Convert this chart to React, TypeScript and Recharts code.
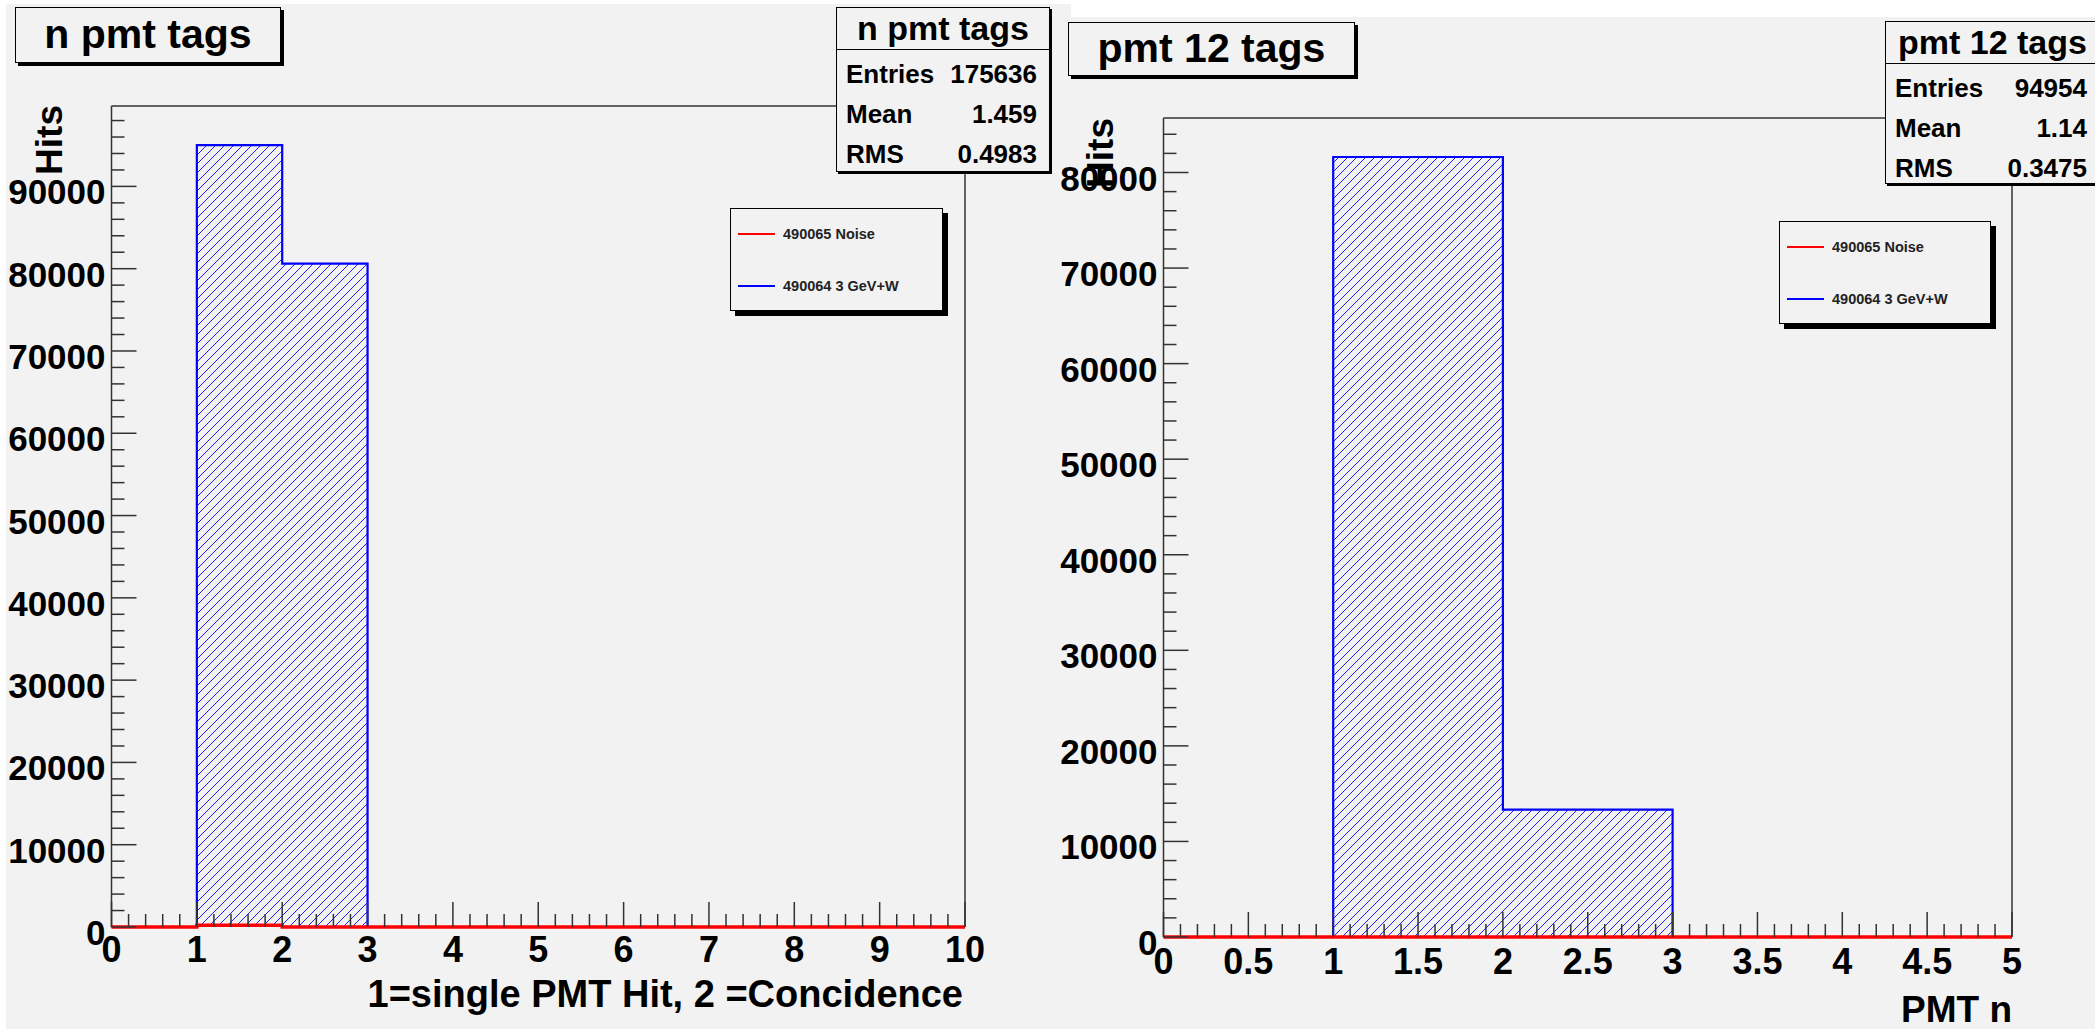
import React from 'react';
import { ComposedChart, Area, Line, XAxis, YAxis, ReferenceLine } from 'recharts';

const FONT = "'Liberation Sans', Arial, Helvetica, sans-serif";
const PAD_BG = '#f2f2f2';
const AXIS_COLOR = '#333333';

// ---- "n pmt tags" histogram (bins of width 1 on [0, 10]) ----
const nTagBinEdges = [0, 1, 2, 3, 4, 5, 6, 7, 8, 9, 10];
const nTagSignal = [0, 95019, 80617, 0, 0, 0, 0, 0, 0, 0, 0];
const nTagNoise = [0, 200, 0, 0, 0, 0, 0, 0, 0, 0, 0];
const nTagXMajor = [0, 1, 2, 3, 4, 5, 6, 7, 8, 9, 10];
const nTagYMajor = [0, 10000, 20000, 30000, 40000, 50000, 60000, 70000, 80000, 90000];
const nTagStats: [string, string][] = [
  ['Entries', '175636'],
  ['Mean', '1.459'],
  ['RMS', '0.4983'],
];

// ---- "pmt 12 tags" histogram (bins of width 1 on [0, 5]) ----
const pmtBinEdges = [0, 1, 2, 3, 4, 5];
const pmtSignal = [0, 81622, 13332, 0, 0, 0];
const pmtNoise = [0, 0, 0, 0, 0, 0];
const pmtXMajor = [0, 0.5, 1, 1.5, 2, 2.5, 3, 3.5, 4, 4.5, 5];
const pmtYMajor = [0, 10000, 20000, 30000, 40000, 50000, 60000, 70000, 80000];
const pmtStats: [string, string][] = [
  ['Entries', '94954'],
  ['Mean', '1.14'],
  ['RMS', '0.3475'],
];

const legendEntries = [
  { label: '490065 Noise', color: '#ff0000' },
  { label: '490064 3 GeV+W', color: '#0000ff' },
];

const r3 = (v: number) => Math.round(v * 1000) / 1000;

// Minor ticks: subdivide each major interval, and continue up to the axis maximum.
function withMinors(step: number, max: number) {
  const out: number[] = [];
  for (let i = 0; r3(i * step) <= max; i++) out.push(r3(i * step));
  return out;
}

function makeXTick(majors: number[], labelBaseline: number) {
  return (props: any) => {
    const { x, y, payload } = props;
    const v = r3(payload.value);
    const isMajor = majors.includes(v);
    return (
      <g>
        <line x1={x} x2={x} y1={y} y2={y - (isMajor ? 25 : 13)} stroke={AXIS_COLOR} strokeWidth={1.5} />
        {isMajor && (
          <text x={x} y={y + labelBaseline} textAnchor="middle" fontFamily={FONT} fontWeight="bold" fontSize={36} fill="#000">
            {String(v)}
          </text>
        )}
      </g>
    );
  };
}

function makeYTick(majors: number[]) {
  return (props: any) => {
    const { x, y, payload } = props;
    const v = r3(payload.value);
    const isMajor = majors.includes(v);
    return (
      <g>
        <line x1={x} x2={x + (isMajor ? 25 : 13)} y1={y} y2={y} stroke={AXIS_COLOR} strokeWidth={1.5} />
        {isMajor && (
          <text x={x - 6} y={y + 18} textAnchor="end" fontFamily={FONT} fontWeight="bold" fontSize={35} fill="#000">
            {String(v)}
          </text>
        )}
      </g>
    );
  };
}

type Box = { left: number; top: number; width: number; height: number };

function TitleBox({ box, text }: { box: Box; text: string }) {
  return (
    <div
      style={{
        position: 'absolute',
        left: box.left,
        top: box.top,
        width: box.width,
        height: box.height,
        boxSizing: 'border-box',
        border: '1.5px solid #000',
        boxShadow: '3px 3px 0 #000',
        background: PAD_BG,
        fontFamily: FONT,
        fontWeight: 'bold',
        fontSize: 41,
        lineHeight: `${box.height - 3}px`,
        textAlign: 'center',
        color: '#000',
        whiteSpace: 'nowrap',
      }}
    >
      {text}
    </div>
  );
}

function StatsBox({ box, title, rows }: { box: Box; title: string; rows: [string, string][] }) {
  const rowCenters = [66, 106, 146];
  return (
    <div
      style={{
        position: 'absolute',
        left: box.left,
        top: box.top,
        width: box.width,
        height: box.height,
        boxSizing: 'border-box',
        border: '1.5px solid #000',
        boxShadow: '2px 2px 0 #000',
        background: PAD_BG,
        fontFamily: FONT,
        fontWeight: 'bold',
        color: '#000',
        whiteSpace: 'nowrap',
      }}
    >
      <div style={{ position: 'absolute', left: 0, right: 0, top: 0, height: 41, lineHeight: '41px', textAlign: 'center', fontSize: 34, borderBottom: '1.5px solid #000' }}>
        {title}
      </div>
      {rows.map(([k, v], i) => (
        <div key={k} style={{ position: 'absolute', left: 9, right: 12, top: rowCenters[i] - 16, height: 32, lineHeight: '32px', fontSize: 26 }}>
          <span style={{ position: 'absolute', left: 0 }}>{k}</span>
          <span style={{ position: 'absolute', right: 0 }}>{v}</span>
        </div>
      ))}
    </div>
  );
}

function LegendBox({ box }: { box: Box }) {
  const rowY = [25, 77];
  return (
    <div
      style={{
        position: 'absolute',
        left: box.left,
        top: box.top,
        width: box.width,
        height: box.height,
        boxSizing: 'border-box',
        border: '1px solid #000',
        boxShadow: '5px 5px 0 #000',
        background: PAD_BG,
        fontFamily: FONT,
        fontWeight: 'bold',
        fontSize: 14.5,
        color: '#222',
        whiteSpace: 'nowrap',
      }}
    >
      {legendEntries.map((e, i) => (
        <div key={e.label}>
          <div style={{ position: 'absolute', left: 7, width: 37, top: rowY[i] - 1.5, height: 2.5, background: e.color }} />
          <div style={{ position: 'absolute', left: 52, top: rowY[i] - 10, height: 20, lineHeight: '20px' }}>{e.label}</div>
        </div>
      ))}
    </div>
  );
}

type PadProps = {
  id: string;
  left: number;
  top: number;
  width: number;
  height: number;
  frame: { left: number; top: number; right: number; bottom: number };
  edges: number[];
  signal: number[];
  noise: number[];
  xMajor: number[];
  xMinorStep: number;
  xLabelBaseline: number;
  yMajor: number[];
  yMinorStep: number;
  title: string;
  titleBox: Box;
  stats: [string, string][];
  statsBox: Box;
  legendBox: Box;
  yTitlePos: [number, number];
  xTitle: string;
  xTitlePos: [number, number];
  xTitleSize: number;
};

function Pad(p: PadProps) {
  const data = p.edges.map((x, i) => ({ x, signal: p.signal[i], noise: p.noise[i] }));
  const xMax = p.edges[p.edges.length - 1];
  const yMax = Math.max(...p.signal) * 1.05;
  const xTicks = withMinors(p.xMinorStep, xMax);
  const yTicks = withMinors(p.yMinorStep, yMax);
  const xAxisHeight = p.height - p.frame.bottom - 2;
  const hatchId = `hatch-${p.id}`;
  return (
    <div
      style={{
        position: 'absolute',
        left: p.left,
        top: p.top,
        width: p.width,
        height: p.height,
        overflow: 'hidden',
        background: PAD_BG,
      }}
    >
      <ComposedChart
        width={p.width}
        height={p.height}
        data={data}
        margin={{ top: p.frame.top, left: p.frame.left - 100, right: p.width - p.frame.right, bottom: 2 }}
      >
        <defs>
          <pattern id={hatchId} patternUnits="userSpaceOnUse" width={9} height={9}>
            <path d="M0,9 L9,0 M-1,1 L1,-1 M8,10 L10,8" stroke="#2020ff" strokeWidth={1} />
          </pattern>
        </defs>
        <XAxis
          dataKey="x"
          type="number"
          domain={[0, xMax]}
          ticks={xTicks}
          interval={0}
          height={xAxisHeight}
          tickSize={0}
          tickMargin={0}
          tickLine={false}
          axisLine={false}
          tick={makeXTick(p.xMajor, p.xLabelBaseline)}
        />
        <YAxis
          type="number"
          domain={[0, yMax]}
          ticks={yTicks}
          interval={0}
          width={100}
          tickSize={0}
          tickMargin={0}
          tickLine={false}
          axisLine={false}
          tick={makeYTick(p.yMajor)}
        />
        {/* frame: left, top and right edges; the noise line runs along the bottom edge */}
        <ReferenceLine x={0} stroke={AXIS_COLOR} strokeWidth={1.5} />
        <ReferenceLine x={xMax} stroke={AXIS_COLOR} strokeWidth={1.5} />
        <ReferenceLine y={yMax} stroke={AXIS_COLOR} strokeWidth={1.5} />
        <Area
          type="stepAfter"
          dataKey="signal"
          stroke="#0000ff"
          strokeWidth={2.2}
          fill={`url(#${hatchId})`}
          fillOpacity={1}
          dot={false}
          activeDot={false}
          isAnimationActive={false}
        />
        <Line
          type="stepAfter"
          dataKey="noise"
          stroke="#ff0000"
          strokeWidth={3.5}
          dot={false}
          activeDot={false}
          isAnimationActive={false}
        />
      </ComposedChart>
      <svg
        width={p.width}
        height={p.height}
        style={{ position: 'absolute', left: 0, top: 0, pointerEvents: 'none' }}
      >
        <text
          x={p.yTitlePos[0]}
          y={p.yTitlePos[1]}
          transform={`rotate(-90 ${p.yTitlePos[0]} ${p.yTitlePos[1]})`}
          textAnchor="end"
          fontFamily={FONT}
          fontWeight="bold"
          fontSize={37}
          fill="#000"
        >
          Hits
        </text>
        <text
          x={p.xTitlePos[0]}
          y={p.xTitlePos[1]}
          textAnchor="end"
          fontFamily={FONT}
          fontWeight="bold"
          fontSize={p.xTitleSize}
          fill="#000"
        >
          {p.xTitle}
        </text>
      </svg>
      <TitleBox box={p.titleBox} text={p.title} />
      <LegendBox box={p.legendBox} />
      <StatsBox box={p.statsBox} title={p.title} rows={p.stats} />
    </div>
  );
}

export default function App() {
  return (
    <div
      style={{
        position: 'absolute',
        left: 0,
        top: 0,
        width: 2095,
        height: 1029,
        overflow: 'hidden',
        background: '#ffffff',
      }}
    >
      <Pad
        id="ntags"
        left={6}
        top={4}
        width={1065}
        height={1025}
        frame={{ left: 105.5, top: 102, right: 959, bottom: 923 }}
        edges={nTagBinEdges}
        signal={nTagSignal}
        noise={nTagNoise}
        xMajor={nTagXMajor}
        xMinorStep={0.2}
        xLabelBaseline={35}
        yMajor={nTagYMajor}
        yMinorStep={2000}
        title="n pmt tags"
        titleBox={{ left: 9, top: 3, width: 266, height: 56 }}
        stats={nTagStats}
        statsBox={{ left: 830, top: 3, width: 214, height: 165 }}
        legendBox={{ left: 724, top: 204, width: 213, height: 103 }}
        yTitlePos={[56, 101]}
        xTitle="1=single PMT Hit, 2 =Concidence"
        xTitlePos={[957, 1003]}
        xTitleSize={38}
      />
      <Pad
        id="pmt12"
        left={1056}
        top={17}
        width={1039}
        height={1012}
        frame={{ left: 107.5, top: 101, right: 956, bottom: 920 }}
        edges={pmtBinEdges}
        signal={pmtSignal}
        noise={pmtNoise}
        xMajor={pmtXMajor}
        xMinorStep={0.1}
        xLabelBaseline={37}
        yMajor={pmtYMajor}
        yMinorStep={2000}
        title="pmt 12 tags"
        titleBox={{ left: 12, top: 5, width: 287, height: 54 }}
        stats={pmtStats}
        statsBox={{ left: 829, top: 4, width: 215, height: 163 }}
        legendBox={{ left: 723, top: 204, width: 212, height: 103 }}
        yTitlePos={[57, 101]}
        xTitle="PMT n"
        xTitlePos={[956, 1005]}
        xTitleSize={37}
      />
    </div>
  );
}
